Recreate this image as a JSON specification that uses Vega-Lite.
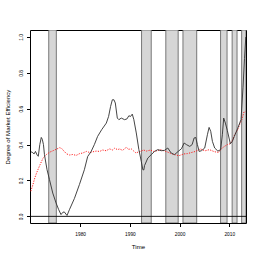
{
  "$schema": "https://vega.github.io/schema/vega-lite/v6.json",
  "autosize": {"type": "none"},
  "width": 216,
  "height": 193,
  "padding": {"left": 30, "top": 30, "right": 16, "bottom": 39},
  "background": "white",
  "config": {
    "view": {"stroke": "black", "strokeWidth": 1},
    "font": "Liberation Sans",
    "axis": {"grid": false, "domain": false, "tickColor": "black", "tickSize": 3.5, "labelColor": "black", "titleColor": "black", "labelFont": "Liberation Sans", "titleFont": "Liberation Sans", "labelFontSize": 4.8, "titleFontSize": 6.1, "titleFontWeight": "normal", "labelOverlap": false},
    "axisY": {"labelAngle": 270, "labelAlign": "center", "labelBaseline": "bottom", "labelPadding": 3, "titlePadding": 8, "labelOverlap": false, "labelBound": false, "labelFlush": false, "labelSeparation": 0}
  },
  "datasets": {
    "bands": [
      {"start": 1973.67, "end": 1975.2},
      {"start": 1992.35, "end": 1994.3},
      {"start": 1997.23, "end": 1999.72},
      {"start": 2000.68, "end": 2003.45},
      {"start": 2008.25, "end": 2009.56},
      {"start": 2010.58, "end": 2011.57},
      {"start": 2012.49, "end": 2013.37}
    ],
    "black": [
      {"t": 1970.12, "v": 0.36}, {"t": 1970.46, "v": 0.355}, {"t": 1970.72, "v": 0.348}, {"t": 1971.0, "v": 0.362},
      {"t": 1971.37, "v": 0.34}, {"t": 1971.57, "v": 0.335}, {"t": 1971.87, "v": 0.4}, {"t": 1972.17, "v": 0.44},
      {"t": 1972.37, "v": 0.43}, {"t": 1972.61, "v": 0.4}, {"t": 1972.81, "v": 0.344}, {"t": 1973.33, "v": 0.26},
      {"t": 1973.82, "v": 0.205}, {"t": 1974.48, "v": 0.13}, {"t": 1975.14, "v": 0.075}, {"t": 1975.68, "v": 0.037},
      {"t": 1976.14, "v": 0.01}, {"t": 1976.49, "v": 0.022}, {"t": 1976.79, "v": 0.025}, {"t": 1977.35, "v": 0.005},
      {"t": 1977.83, "v": 0.037}, {"t": 1978.84, "v": 0.1}, {"t": 1979.84, "v": 0.177}, {"t": 1980.84, "v": 0.26},
      {"t": 1981.51, "v": 0.334}, {"t": 1982.17, "v": 0.36}, {"t": 1982.85, "v": 0.4}, {"t": 1983.51, "v": 0.446},
      {"t": 1984.32, "v": 0.483}, {"t": 1985.26, "v": 0.52}, {"t": 1985.72, "v": 0.557}, {"t": 1986.12, "v": 0.613},
      {"t": 1986.47, "v": 0.65}, {"t": 1986.79, "v": 0.65}, {"t": 1987.07, "v": 0.632}, {"t": 1987.47, "v": 0.548},
      {"t": 1987.79, "v": 0.539}, {"t": 1988.27, "v": 0.548}, {"t": 1988.94, "v": 0.539}, {"t": 1989.4, "v": 0.543},
      {"t": 1989.8, "v": 0.561}, {"t": 1990.14, "v": 0.557}, {"t": 1990.48, "v": 0.57}, {"t": 1990.8, "v": 0.539},
      {"t": 1991.29, "v": 0.465}, {"t": 1991.81, "v": 0.372}, {"t": 1992.29, "v": 0.307}, {"t": 1992.61, "v": 0.26},
      {"t": 1992.81, "v": 0.259}, {"t": 1992.95, "v": 0.283}, {"t": 1993.61, "v": 0.325}, {"t": 1994.3, "v": 0.344},
      {"t": 1994.96, "v": 0.362}, {"t": 1995.62, "v": 0.372}, {"t": 1996.31, "v": 0.366}, {"t": 1996.97, "v": 0.368},
      {"t": 1997.63, "v": 0.381}, {"t": 1998.31, "v": 0.353}, {"t": 1998.98, "v": 0.344}, {"t": 1999.72, "v": 0.362},
      {"t": 2000.38, "v": 0.377}, {"t": 2000.92, "v": 0.409}, {"t": 2001.39, "v": 0.4}, {"t": 2002.05, "v": 0.39},
      {"t": 2002.53, "v": 0.4}, {"t": 2002.93, "v": 0.437}, {"t": 2003.25, "v": 0.44}, {"t": 2003.59, "v": 0.4},
      {"t": 2003.94, "v": 0.362}, {"t": 2004.4, "v": 0.366}, {"t": 2005.06, "v": 0.381}, {"t": 2005.6, "v": 0.455},
      {"t": 2005.94, "v": 0.496}, {"t": 2006.27, "v": 0.474}, {"t": 2006.61, "v": 0.418}, {"t": 2007.07, "v": 0.381},
      {"t": 2007.71, "v": 0.364}, {"t": 2008.27, "v": 0.372}, {"t": 2008.61, "v": 0.455}, {"t": 2008.88, "v": 0.548},
      {"t": 2009.22, "v": 0.52}, {"t": 2009.62, "v": 0.478}, {"t": 2010.22, "v": 0.405}, {"t": 2010.62, "v": 0.418},
      {"t": 2011.02, "v": 0.446}, {"t": 2011.69, "v": 0.49}, {"t": 2012.37, "v": 0.54}, {"t": 2012.77, "v": 0.72},
      {"t": 2013.07, "v": 0.88}, {"t": 2013.33, "v": 1.0}
    ],
    "red": [
      {"t": 1970.06, "v": 0.14}, {"t": 1970.52, "v": 0.18}, {"t": 1970.86, "v": 0.214}, {"t": 1971.27, "v": 0.245},
      {"t": 1971.87, "v": 0.285}, {"t": 1972.53, "v": 0.325}, {"t": 1973.21, "v": 0.345}, {"t": 1973.88, "v": 0.358},
      {"t": 1974.54, "v": 0.366}, {"t": 1975.18, "v": 0.374}, {"t": 1975.88, "v": 0.383}, {"t": 1976.29, "v": 0.378},
      {"t": 1976.79, "v": 0.362}, {"t": 1977.29, "v": 0.348}, {"t": 1977.89, "v": 0.342}, {"t": 1978.49, "v": 0.345},
      {"t": 1979.2, "v": 0.34}, {"t": 1979.9, "v": 0.35}, {"t": 1980.5, "v": 0.353}, {"t": 1981.24, "v": 0.362},
      {"t": 1981.91, "v": 0.356}, {"t": 1982.57, "v": 0.36}, {"t": 1983.21, "v": 0.364}, {"t": 1983.92, "v": 0.362},
      {"t": 1984.52, "v": 0.37}, {"t": 1985.22, "v": 0.366}, {"t": 1985.92, "v": 0.376}, {"t": 1986.53, "v": 0.37},
      {"t": 1986.93, "v": 0.38}, {"t": 1987.53, "v": 0.372}, {"t": 1987.93, "v": 0.376}, {"t": 1988.53, "v": 0.368},
      {"t": 1989.28, "v": 0.385}, {"t": 1989.74, "v": 0.374}, {"t": 1990.28, "v": 0.376}, {"t": 1990.74, "v": 0.365},
      {"t": 1991.24, "v": 0.353}, {"t": 1991.75, "v": 0.36}, {"t": 1992.15, "v": 0.362}, {"t": 1992.75, "v": 0.37},
      {"t": 1993.35, "v": 0.364}, {"t": 1994.16, "v": 0.37}, {"t": 1994.76, "v": 0.362}, {"t": 1995.5, "v": 0.366},
      {"t": 1996.16, "v": 0.372}, {"t": 1996.83, "v": 0.366}, {"t": 1997.47, "v": 0.36}, {"t": 1998.17, "v": 0.351},
      {"t": 1998.98, "v": 0.345}, {"t": 1999.84, "v": 0.338}, {"t": 2000.38, "v": 0.343}, {"t": 2000.84, "v": 0.348},
      {"t": 2001.59, "v": 0.35}, {"t": 2002.53, "v": 0.357}, {"t": 2003.19, "v": 0.362}, {"t": 2003.8, "v": 0.37},
      {"t": 2004.2, "v": 0.376}, {"t": 2004.7, "v": 0.37}, {"t": 2005.2, "v": 0.366}, {"t": 2006.0, "v": 0.372},
      {"t": 2006.87, "v": 0.362}, {"t": 2007.41, "v": 0.358}, {"t": 2007.87, "v": 0.357}, {"t": 2008.41, "v": 0.377},
      {"t": 2009.02, "v": 0.39}, {"t": 2009.62, "v": 0.4}, {"t": 2010.22, "v": 0.405}, {"t": 2010.68, "v": 0.427},
      {"t": 2011.08, "v": 0.455}, {"t": 2011.69, "v": 0.483}, {"t": 2012.13, "v": 0.515}, {"t": 2012.53, "v": 0.54},
      {"t": 2012.97, "v": 0.582}, {"t": 2013.29, "v": 0.585}
    ],
    "zero": [{"v": 0}]
  },
  "layer": [
    {
      "data": {"name": "bands"},
      "mark": {"type": "rect", "fill": "#d6d6d6", "stroke": "#5a5a5a", "strokeWidth": 0.8, "clip": true},
      "encoding": {
        "x": {"field": "start", "type": "quantitative", "scale": {"domain": [1969.9, 2013.37], "nice": false, "zero": false},
              "axis": {"values": [1980, 1990, 2000, 2010], "format": "d", "title": "Time", "labelPadding": 4.5, "titlePadding": 8, "labelOverlap": false}},
        "x2": {"field": "end"}
      }
    },
    {
      "data": {"name": "zero"},
      "mark": {"type": "rule", "color": "black", "strokeWidth": 0.9},
      "encoding": {
        "y": {"field": "v", "type": "quantitative", "scale": {"domain": [-0.037, 1.039], "nice": false, "zero": false},
              "axis": {"values": [0, 0.2, 0.4, 0.6, 0.8, 1], "format": ".1f", "title": "Degree of Market Efficiency", "labelOverlap": false}}
      }
    },
    {
      "data": {"name": "red"},
      "mark": {"type": "line", "color": "#ff2020", "strokeWidth": 1, "strokeDash": [1.2, 1.3], "clip": true},
      "encoding": {
        "x": {"field": "t", "type": "quantitative"},
        "y": {"field": "v", "type": "quantitative", "axis": {"values": [0, 0.2, 0.4, 0.6, 0.8, 1], "format": ".1f", "title": "Degree of Market Efficiency", "labelOverlap": false}}
      }
    },
    {
      "data": {"name": "black"},
      "mark": {"type": "line", "color": "#303030", "strokeWidth": 0.9, "clip": true},
      "encoding": {
        "x": {"field": "t", "type": "quantitative"},
        "y": {"field": "v", "type": "quantitative", "axis": {"values": [0, 0.2, 0.4, 0.6, 0.8, 1], "format": ".1f", "title": "Degree of Market Efficiency", "labelOverlap": false}}
      }
    }
  ]
}
